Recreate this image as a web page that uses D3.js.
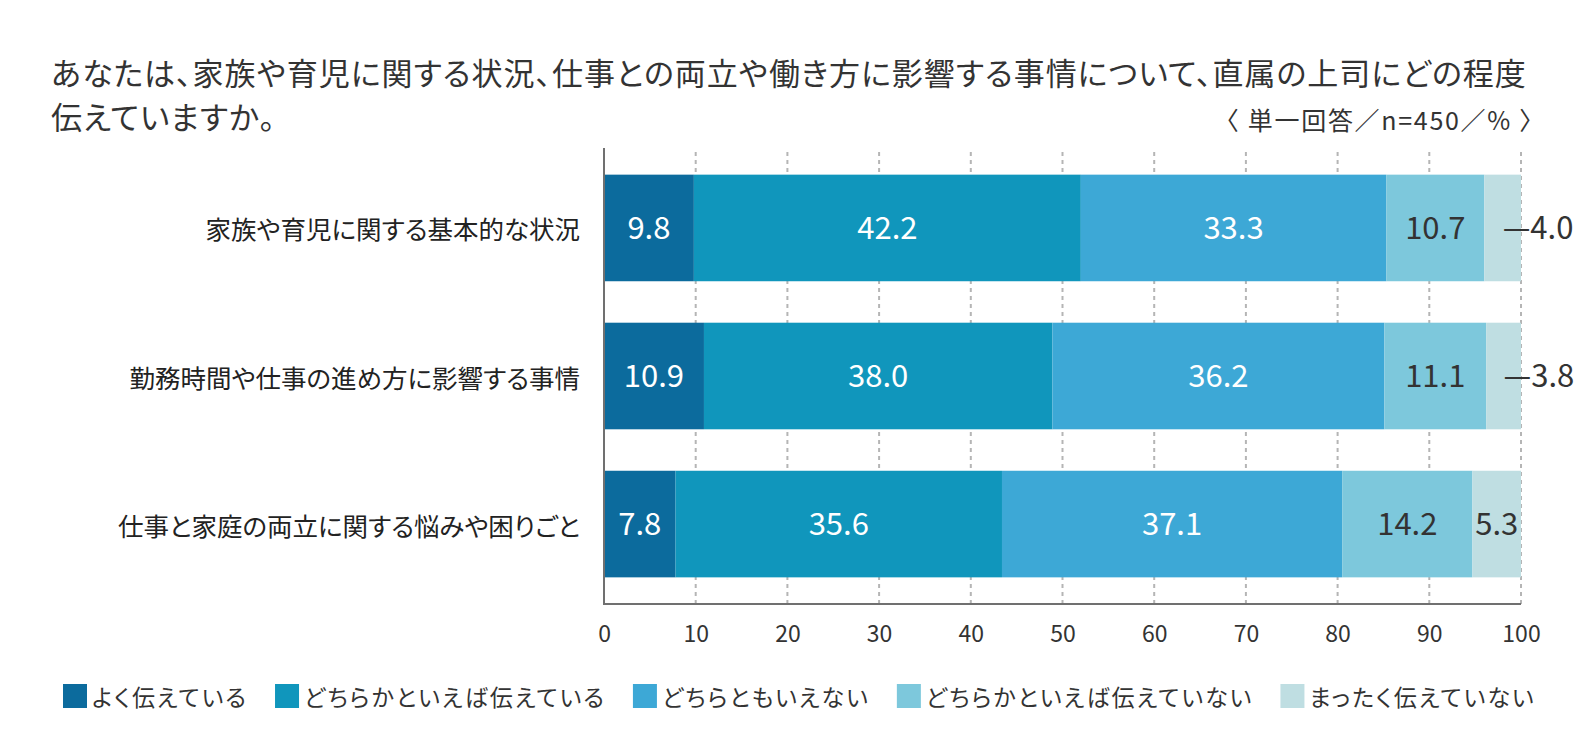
<!DOCTYPE html>
<html>
<head>
<meta charset="utf-8">
<script src="https://cdn.jsdelivr.net/npm/d3@7"></script>
<style>
    body { margin: 0; background: #fff; }
    svg { display: block; font-family: "Noto Sans CJK JP", "Noto Sans", sans-serif; }
    .jp { font-feature-settings: "palt"; }
</style>
</head>
<body>
<div id="vis"></div>
<script>
// chart values
var categories = [
    '家族や育児に関する基本的な状況',
    '勤務時間や仕事の進め方に影響する事情',
    '仕事と家庭の両立に関する悩みや困りごと'
];
var seriesNames = [
    'よく伝えている',
    'どちらかといえば伝えている',
    'どちらともいえない',
    'どちらかといえば伝えていない',
    'まったく伝えていない'
];
var wellTold = [9.8, 10.9, 7.8];
var ratherTold = [42.2, 38.0, 35.6];
var neither = [33.3, 36.2, 37.1];
var ratherNotTold = [10.7, 11.1, 14.2];
var notTold = [4.0, 3.8, 5.3];
var xTicks = [0, 10, 20, 30, 40, 50, 60, 70, 80, 90, 100];

var titleLines = [
    'あなたは、家族や育児に関する状況、仕事との両立や働き方に影響する事情について、直属の上司にどの程度',
    '伝えていますか。'
];
var noteText = '〈 単一回答／n=450／% 〉';

var colors = ['#0c6b9d', '#1096bc', '#3da8d6', '#7dc8dc', '#bfdee2'];
var labelColors = ['#fff', '#fff', '#fff', '#333', '#333'];

var width = 1580;
var height = 756;
var margin = { top: 148, left: 604, bottom: 152, right: 59 };

// build rows for d3.stack from the arrays
var seriesValues = [wellTold, ratherTold, neither, ratherNotTold, notTold];
var rows = categories.map(function (c, i) {
    var row = { category: c };
    seriesNames.forEach(function (s, j) { row[s] = seriesValues[j][i]; });
    return row;
});
var stacked = d3.stack().keys(seriesNames)(rows);

var svg = d3.select('#vis').append('svg')
    .attr('width', width)
    .attr('height', height);

var x = d3.scaleLinear()
    .domain([0, 100])
    .range([margin.left, width - margin.right]);

var y = d3.scaleBand()
    .domain(categories)
    .range([margin.top, height - margin.bottom])
    .paddingInner(0.28)
    .paddingOuter(0.18);

// title and note
svg.append('g')
    .attr('class', 'jp')
    .selectAll('text')
    .data(titleLines)
    .enter().append('text')
    .attr('x', 51)
    .attr('y', function (d, i) { return 85 + i * 44; })
    .attr('font-size', 31)
    .attr('letter-spacing', 1)
    .attr('fill', '#333')
    .text(function (d) { return d; });

svg.append('text')
    .attr('x', 1546)
    .attr('y', 130)
    .attr('text-anchor', 'end')
    .attr('font-size', 25)
    .attr('letter-spacing', 1.7)
    .attr('fill', '#333')
    .text(noteText);

// dashed grid lines behind the bars
svg.append('g')
    .selectAll('line')
    .data(xTicks.slice(1))
    .enter().append('line')
    .attr('x1', function (d) { return x(d); })
    .attr('x2', function (d) { return x(d); })
    .attr('y1', margin.top + 4)
    .attr('y2', height - margin.bottom)
    .attr('stroke', '#b5b5b5')
    .attr('stroke-width', 2)
    .attr('stroke-dasharray', '4,4');

// stacked bars
var layers = svg.append('g')
    .selectAll('g')
    .data(stacked)
    .enter().append('g')
    .attr('fill', function (d, i) { return colors[i]; });

layers.selectAll('rect')
    .data(function (d) { return d; })
    .enter().append('rect')
    .attr('x', function (d) { return x(d[0]); })
    .attr('y', function (d) { return y(d.data.category); })
    .attr('width', function (d) { return x(d[1]) - x(d[0]); })
    .attr('height', y.bandwidth());

// value labels, small slices get a dash and sit to the right
var fmt = d3.format('.1f');
stacked.forEach(function (layer, i) {
    svg.append('g')
        .selectAll('text')
        .data(layer)
        .enter().append('text')
        .attr('x', function (d) { return x((d[0] + d[1]) / 2); })
        .attr('y', function (d) { return y(d.data.category) + y.bandwidth() / 2; })
        .attr('dy', '0.35em')
        .attr('font-size', 31)
        .attr('text-anchor', function (d) { return (d[1] - d[0]) < 5 ? 'start' : 'middle'; })
        .attr('fill', function (d) { return (d[1] - d[0]) < 5 ? '#333' : labelColors[i]; })
        .text(function (d) {
            var v = fmt(d[1] - d[0]);
            return (d[1] - d[0]) < 5 ? '—' + v : v;
        });
});

// category labels
svg.append('g')
    .attr('class', 'jp')
    .selectAll('text')
    .data(categories)
    .enter().append('text')
    .attr('x', margin.left - 24)
    .attr('y', function (d) { return y(d) + y.bandwidth() / 2; })
    .attr('dominant-baseline', 'central')
    .attr('text-anchor', 'end')
    .attr('font-size', 25.5)
    .attr('fill', '#222')
    .text(function (d) { return d; });

// axes
svg.append('line')
    .attr('x1', x(0)).attr('x2', x(0))
    .attr('y1', margin.top).attr('y2', height - margin.bottom + 1)
    .attr('stroke', '#707070')
    .attr('stroke-width', 2);

svg.append('line')
    .attr('x1', x(0)).attr('x2', x(100))
    .attr('y1', height - margin.bottom).attr('y2', height - margin.bottom)
    .attr('stroke', '#707070')
    .attr('stroke-width', 2);

var xAxis = d3.axisBottom(x)
    .tickValues(xTicks)
    .tickSize(0)
    .tickPadding(22);

var axisG = svg.append('g')
    .attr('transform', 'translate(0,' + (height - margin.bottom) + ')')
    .call(xAxis);
axisG.select('.domain').remove();
axisG.selectAll('text')
    .attr('font-size', 23)
    .attr('font-family', '"Noto Sans CJK JP", sans-serif')
    .attr('fill', '#333');

// legend, laid out from measured text widths
var legend = svg.append('g')
    .attr('class', 'jp')
    .attr('transform', 'translate(63,684)');
var lx = 0;
seriesNames.forEach(function (name, i) {
    var item = legend.append('g').attr('transform', 'translate(' + lx + ',0)');
    item.append('rect')
        .attr('width', 24)
        .attr('height', 24)
        .attr('fill', colors[i]);
    var t = item.append('text')
        .attr('x', 29)
        .attr('y', 12)
        .attr('dominant-baseline', 'central')
        .attr('font-size', 23)
        .attr('letter-spacing', 2)
        .attr('fill', '#333')
        .text(name);
    lx += 29 + t.node().getComputedTextLength() + 27;
});
</script>
</body>
</html>
